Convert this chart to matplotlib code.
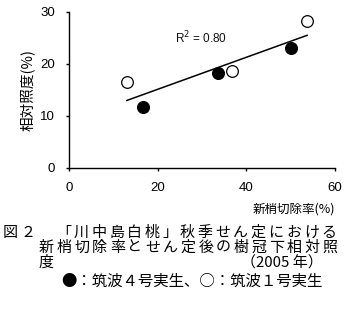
import matplotlib
matplotlib.use("Agg")
import matplotlib.pyplot as plt
import numpy as np

# 筑波4号実生 (filled) / 筑波1号実生 (open)
x_t4 = [16.6, 33.5, 50.0]
y_t4 = [11.6, 18.15, 23.1]
x_t1 = [13.0, 36.8, 53.7]
y_t1 = [16.5, 18.65, 28.3]

x_ticks = [0, 20, 40, 60]
y_ticks = [0, 10, 20, 30]

caption = [
    "図２　「川中島白桃」秋季せん定における",
    "新梢切除率とせん定後の樹冠下相対照",
    "度",
]
year_text = "（2005 年）"
legend_text = "●：筑波４号実生、○：筑波１号実生"

JP = ["Noto Sans CJK JP", "DejaVu Sans"]
NUM = "Liberation Sans"
W, H = 361, 318

fig = plt.figure(figsize=(3.61, 3.18), dpi=100)
fig.patch.set_facecolor("white")
ax = fig.add_axes([0.192, 0.4726, 0.736, 0.4904])

# trend line over all points
xs = np.array(x_t4 + x_t1)
ys = np.array(y_t4 + y_t1)
slope, inter = np.polyfit(xs, ys, 1)
lx = np.array([xs.min(), xs.max()])
ax.plot(lx, slope * lx + inter, color="black", lw=1.1, zorder=2)

ax.plot(x_t4, y_t4, "o", ms=8.4, mfc="black", mec="black", zorder=3)
ax.plot(x_t1, y_t1, "o", ms=8.4, mfc="white", mec="black", mew=0.9, zorder=3)

ax.text(23.9, 24.9, "R$^2$ = 0.80", fontsize=8.5, family=NUM,
        color="#111111", va="center")

ax.set_xlim(0, 60)
ax.set_ylim(0, 30)
ax.set_xticks(x_ticks)
ax.set_yticks(y_ticks)
ax.spines["top"].set_visible(False)
ax.spines["right"].set_visible(False)
for s in ["left", "bottom"]:
    ax.spines[s].set_linewidth(1.0)
ax.tick_params(direction="out", length=2.5, width=1.0, pad=8)
for lab in ax.get_xticklabels() + ax.get_yticklabels():
    lab.set_fontfamily(NUM)
    lab.set_fontsize(9.5)

ax.set_ylabel("相対照度(%)", family=JP, fontsize=10.5, labelpad=4)

fig.text(335 / W, 1 - 209 / H, "新梢切除率(%)", family=JP, fontsize=9,
         ha="right", va="center")


# caption: wide letter spacing like the original
def spaced(x0, y, s, step=17.7, size=10.8):
    for i, ch in enumerate(s):
        fig.text((x0 + i * step) / W, 1 - y / H, ch, family=JP,
                 fontsize=size, va="center", ha="left")


spaced(3, 233, caption[0])
spaced(39, 248, caption[1])
spaced(39, 263, caption[2])
fig.text(323 / W, 1 - 263 / H, year_text, family=JP, fontsize=10.8,
         ha="right", va="center")
fig.text(61 / W, 1 - 281 / H, legend_text, family=JP, fontsize=11.1,
         va="center")

fig.savefig("out.png", dpi=100, facecolor="white")
